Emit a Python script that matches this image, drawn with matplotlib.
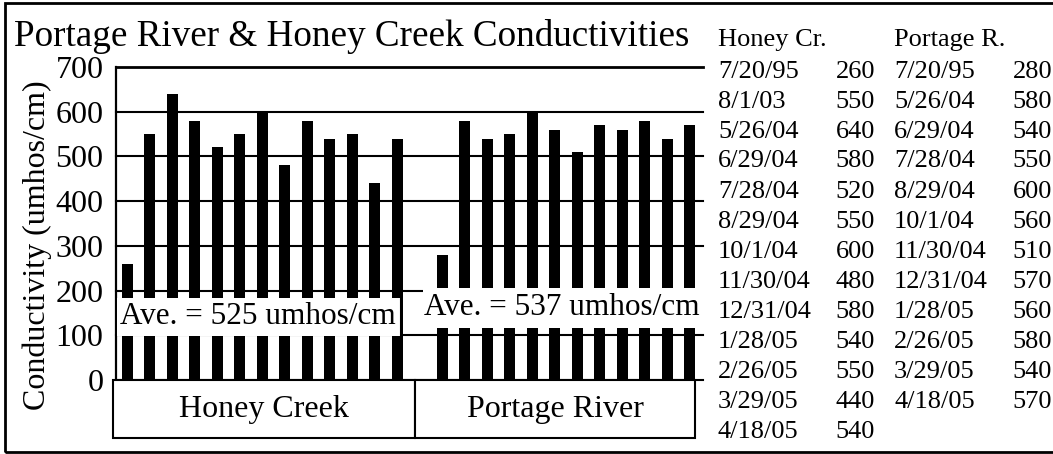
import matplotlib
matplotlib.use("Agg")
import matplotlib.pyplot as plt
from matplotlib.patches import Rectangle
from matplotlib.lines import Line2D

plt.rcParams['font.family'] = ['Liberation Serif', 'DejaVu Serif']

# ---- data ----
honey_dates = ["7/20/95", "8/1/03", "5/26/04", "6/29/04", "7/28/04", "8/29/04", "10/1/04",
               "11/30/04", "12/31/04", "1/28/05", "2/26/05", "3/29/05", "4/18/05"]
honey_values = [260, 550, 640, 580, 520, 550, 600, 480, 580, 540, 550, 440, 540]
portage_dates = ["7/20/95", "5/26/04", "6/29/04", "7/28/04", "8/29/04", "10/1/04", "11/30/04",
                 "12/31/04", "1/28/05", "2/26/05", "3/29/05", "4/18/05"]
portage_values = [280, 580, 540, 550, 600, 560, 510, 570, 560, 580, 540, 570]
groups = ["Honey Creek", "Portage River"]
averages = [525, 537]
yticks = [0, 100, 200, 300, 400, 500, 600, 700]

W, H = 1053, 454
fig = plt.figure(figsize=(W / 100, H / 100), dpi=100)

def fx(px):
    return px / W

def fy(py):
    return 1 - py / H

ax_left, ax_right, ax_top, ax_bot = 116, 701, 67, 380
ax = fig.add_axes([fx(ax_left), fy(ax_bot), fx(ax_right - ax_left), (ax_bot - ax_top) / H])

n_h = len(honey_values)
x_h = list(range(n_h))
x_p = [n_h + 1 + i for i in range(len(portage_values))]
ax.bar(x_h, honey_values, width=0.48, color='black', zorder=3)
ax.bar(x_p, portage_values, width=0.48, color='black', zorder=3)

ax.set_xlim(-0.5, x_p[-1] + 0.5)
ax.set_ylim(0, 700)
for yv in yticks:
    ax.axhline(yv, xmin=0, xmax=1.003, color='black', lw=2.0 if yv == 700 else 1.5,
               zorder=1, clip_on=False)

for s in ['top', 'right', 'bottom']:
    ax.spines[s].set_visible(False)
ax.spines['left'].set_linewidth(1.6)
ax.set_xticks([])
ax.set_yticks(yticks)
ax.set_yticklabels([str(v) for v in yticks], fontsize=23)
ax.tick_params(axis='y', length=0, pad=9)
ax.set_ylabel("Conductivity (umhos/cm)", fontsize=23)
ax.yaxis.set_label_coords(-0.11, 0.43)

# average boxes
ax.add_patch(Rectangle((-0.46, 98), 12.63, 85.5, facecolor='white', edgecolor='none', zorder=4))
ax.add_line(Line2D([12.17, 12.17], [100, 183.5], color='black', lw=1.5, zorder=5))
ax.text(-0.33, 141, "Ave. = %d umhos/cm" % averages[0], fontsize=22.5, va='center', ha='left', zorder=6)
ax.add_patch(Rectangle((13.14, 116), 12.6, 90, facecolor='white', edgecolor='none',
                       zorder=4, clip_on=False))
ax.text(13.2, 163, "Ave. = %d umhos/cm" % averages[1], fontsize=22.5, va='center', ha='left',
        zorder=6, clip_on=False)

# category boxes below axis
bx = [113, 415, 695]
for i, g in enumerate(groups):
    r = Rectangle((fx(bx[i]), fy(438)), fx(bx[i + 1] - bx[i]), (438 - 380) / H,
                  transform=fig.transFigure, facecolor='white', edgecolor='black', lw=1.5)
    fig.patches.append(r)
    fig.text(fx((bx[i] + bx[i + 1]) / 2), fy(410), g, fontsize=23, ha='center', va='center')

# title
fig.text(fx(14), fy(36), "Portage River & Honey Creek Conductivities", fontsize=26.7,
         ha='left', va='center')

# outer frame (right edge off the image)
frame = Rectangle((fx(5), fy(452)), fx(1065 - 5), (452 - 3) / H, transform=fig.transFigure,
                  facecolor='none', edgecolor='black', lw=2.0, clip_on=False)
fig.patches.append(frame)

# data table
ts = 19
fig.text(fx(718), fy(40), "Honey Cr.", fontsize=ts, ha='left', va='center')
fig.text(fx(894), fy(40), "Portage R.", fontsize=ts, ha='left', va='center')
for i, (d, v) in enumerate(zip(honey_dates, honey_values)):
    yy = fy(71.5 + 30 * i)
    fig.text(fx(718), yy, d, fontsize=ts, ha='left', va='center')
    fig.text(fx(875), yy, str(v), fontsize=ts, ha='right', va='center')
for i, (d, v) in enumerate(zip(portage_dates, portage_values)):
    yy = fy(71.5 + 30 * i)
    fig.text(fx(894), yy, d, fontsize=ts, ha='left', va='center')
    fig.text(fx(1052), yy, str(v), fontsize=ts, ha='right', va='center')

fig.savefig("out.png", dpi=100)
